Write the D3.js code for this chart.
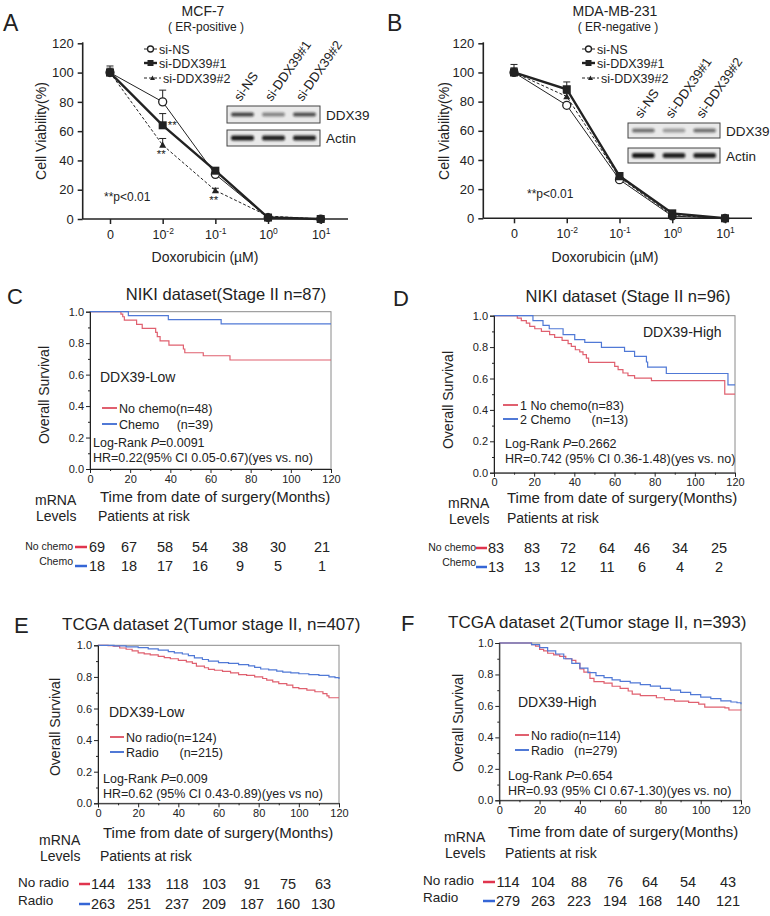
<!DOCTYPE html>
<html>
<head>
<meta charset="utf-8">
<title></title>
<script src="https://d3js.org/d3.v7.min.js"></script>
<style>
body { margin: 0; background: #fff; }
text { font-family: "Liberation Sans", Arial, sans-serif; fill: #222; }
</style>
</head>
<body>
<script>

var width = 770
var height = 916

// ---- panel A / B data (cell viability, %) ----
var doses = ["0", "-2", "-1", "0", "1"]   // exponents, first one is plain "0"
var seriesNames = ["si-NS", "si-DDX39#1", "si-DDX39#2"]

var mcf7_NS   = [100, 80, 30.5, 1, 0]
var mcf7_D1   = [100, 64, 33, 1, 0]
var mcf7_D2   = [100, 50.5, 19.5, 2, 0]
var mcf7_errNS = [4.5, 8, 1, 0, 0]
var mcf7_errD1 = [3, 8, 1, 0, 0]
var mcf7_errD2 = [2, 4.5, 1.5, 0, 0]

var mda_NS   = [100, 77.5, 26.5, 1.5, 0]
var mda_D1   = [100, 88.5, 29, 3.4, 0]
var mda_D2   = [100, 83.5, 28, 2, 0]
var mda_errNS = [3, 1.5, 1, 0, 0]
var mda_errD1 = [5.5, 5, 1, 0, 0]
var mda_errD2 = [3, 2, 1, 0, 0]

// ---- Kaplan-Meier step points [month, survival] ----
var C_noChemo = [[0,1],[15.4,0.985],[16.3,0.968],[17.1,0.947],[23.2,0.919],[26,0.894],[32.7,0.869],[33.5,0.841],[34.9,0.814],[39.3,0.788],[46.5,0.763],[47.2,0.739],[56.4,0.72],[69.7,0.693],[120,0.693]]
var C_chemo   = [[0,1],[19.1,0.975],[39,0.95],[65.3,0.922],[120,0.922]]

var D_noChemo = [[0,1],[11.6,0.985],[13.6,0.968],[16.1,0.953],[17.8,0.932],[20.3,0.917],[23.6,0.9],[27.7,0.879],[30.2,0.862],[33.9,0.843],[36.9,0.822],[38.5,0.805],[40.5,0.783],[42.7,0.769],[44.3,0.752],[46,0.73],[47.1,0.703],[60.1,0.677],[61.8,0.656],[64.2,0.635],[66.7,0.618],[70,0.603],[78.4,0.586],[114.9,0.501],[120,0.501]]
var D_chemo   = [[0,1],[19.4,0.968],[24.4,0.938],[27.5,0.917],[34.4,0.879],[40.2,0.847],[45.2,0.83],[53.5,0.798],[65,0.773],[70,0.741],[75.9,0.705],[76.5,0.672],[85.8,0.632],[116.5,0.56],[120,0.56]]

var E_noRadio = [[0,1],[5,0.997],[7.5,0.994],[10.8,0.983],[14,0.975],[17,0.965],[20,0.952],[23,0.946],[26,0.94],[30,0.93],[33,0.922],[36,0.915],[40,0.905],[44,0.895],[47,0.885],[49,0.868],[53,0.858],[55,0.848],[58,0.842],[62,0.835],[66,0.826],[70,0.815],[74,0.81],[78,0.8],[82,0.79],[84,0.78],[87,0.768],[90,0.758],[94,0.748],[97,0.732],[100,0.726],[104,0.716],[108,0.706],[112,0.694],[114,0.68],[115,0.668],[120,0.668]]
var E_radio   = [[0,1],[8,0.996],[14,0.99],[20,0.985],[25,0.978],[30,0.97],[35,0.96],[38,0.952],[42,0.945],[45,0.935],[48,0.92],[52,0.91],[55,0.9],[60,0.89],[65,0.885],[70,0.878],[75,0.87],[78,0.86],[81,0.85],[85,0.845],[89,0.836],[92,0.83],[96,0.826],[100,0.82],[105,0.815],[110,0.81],[115,0.8],[118,0.795],[120,0.787]]

var F_noRadio = [[0,1],[14,1],[16,0.99],[18,0.98],[20,0.96],[22,0.95],[24,0.935],[27,0.925],[30,0.915],[33,0.9],[36,0.89],[38,0.87],[40,0.835],[42,0.815],[45,0.775],[47,0.755],[52,0.745],[56,0.725],[60,0.712],[64,0.695],[66,0.675],[70,0.665],[78,0.652],[82,0.64],[87,0.63],[94,0.622],[99,0.612],[102,0.592],[112,0.588],[114,0.574],[120,0.572]]
var F_radio   = [[0,1],[10,1],[16,0.99],[20,0.97],[24,0.95],[28,0.93],[32,0.9],[36,0.87],[40,0.84],[44,0.812],[48,0.792],[52,0.78],[56,0.766],[60,0.756],[65,0.746],[70,0.736],[75,0.726],[80,0.712],[85,0.7],[90,0.686],[95,0.672],[100,0.656],[105,0.646],[110,0.632],[115,0.625],[118,0.62],[120,0.61]]

// ---- patients at risk ----
var C_riskNo = [69, 67, 58, 54, 38, 30, 21]
var C_riskYes = [18, 18, 17, 16, 9, 5, 1]
var D_riskNo = [83, 83, 72, 64, 46, 34, 25]
var D_riskYes = [13, 13, 12, 11, 6, 4, 2]
var E_riskNo = [144, 133, 118, 103, 91, 75, 63]
var E_riskYes = [263, 251, 237, 209, 187, 160, 130]
var F_riskNo = [114, 104, 88, 76, 64, 54, 43]
var F_riskYes = [279, 263, 223, 194, 168, 140, 121]

var red = "#e0606f"
var blue = "#5079d6"

var svg = d3.select('body').append('svg')
	.attr('width', width)
	.attr('height', height)

var defs = svg.append("defs")
defs.append("filter").attr("id", "blur").attr("x", "-20%").attr("y", "-100%").attr("width", "140%").attr("height", "300%")
	.append("feGaussianBlur").attr("stdDeviation", "1.1 0.9")

function txt(g, x, y, s, size, anchor) {
	return g.append("text").attr("x", x).attr("y", y).text(s)
		.style("font-size", size + "px")
		.attr("text-anchor", anchor || "start")
}

// ================= viability panels =================
function drawViability(c) {
	var g = svg.append("g")
	var x = d3.scalePoint().domain(d3.range(doses.length)).range(c.xr)
	var y = d3.scaleLinear().domain([0, 120]).range(c.yr)

	txt(g, c.letter[0], c.letter[1], c.letterText, 23)
	txt(g, c.titleX, 16, c.title, 14, "middle")
	txt(g, c.titleX + 3, 31, c.subtitle, 12, "middle")

	var ya = g.append("g").attr("transform", "translate(" + c.axisX + ",0)")
		.call(d3.axisLeft(y).tickValues(d3.range(0, 121, 20)).tickSize(5).tickPadding(4))
	ya.select(".domain").remove()
	ya.selectAll("line").attr("stroke", "#222").attr("stroke-width", 1.5)
	ya.selectAll("text").style("font-size", "13px").attr("fill", "#222").style("font-family", '"Liberation Sans", Arial, sans-serif')
	g.append("line").attr("x1", c.axisX).attr("x2", c.axisX).attr("y1", y(120) - 1).attr("y2", y(0))
		.attr("stroke", "#222").attr("stroke-width", 1.6)

	var xa = g.append("g").attr("transform", "translate(0," + y(0) + ")")
		.call(d3.axisBottom(x).tickSize(5).tickPadding(7).tickFormat(""))
	xa.select(".domain").remove()
	xa.selectAll("line").attr("stroke", "#222").attr("stroke-width", 1.5)
	xa.selectAll(".tick").each(function(d) {
		var t = d3.select(this).append("text").attr("y", 20).attr("text-anchor", "middle")
			.style("font-size", "12.5px")
		if (d === 0) { t.text("0"); return }
		t.append("tspan").text("10")
		t.append("tspan").attr("dy", -5).style("font-size", "8.5px").text(doses[d])
	})
	g.append("line").attr("x1", c.axisX).attr("x2", c.axisEnd).attr("y1", y(0)).attr("y2", y(0))
		.attr("stroke", "#222").attr("stroke-width", 1.6)

	g.append("text").attr("transform", "translate(" + c.ylabX + "," + c.ylabY + ") rotate(-90)")
		.attr("text-anchor", "middle").style("font-size", "14px").text("Cell Viability(%)")
	txt(g, c.xlabX, 262, "Doxorubicin (µM)", 14, "middle")

	var styles = [
		{w: 1, dash: null},
		{w: 2.4, dash: null},
		{w: 1, dash: "3,2"}
	]
	var line = d3.line().x(function(d, i) { return x(i) }).y(function(d) { return y(d) })

	c.series.forEach(function(s, k) {
		g.append("path").datum(s).attr("d", line).attr("fill", "none")
			.attr("stroke", "#222").attr("stroke-width", styles[k].w)
			.attr("stroke-dasharray", styles[k].dash)
		// error bars (upper only)
		s.forEach(function(v, i) {
			var e = c.errs[k][i]
			if (!e) return
			g.append("line").attr("x1", x(i)).attr("x2", x(i)).attr("y1", y(v)).attr("y2", y(v + e))
				.attr("stroke", "#222").attr("stroke-width", 1)
			g.append("line").attr("x1", x(i) - 3.5).attr("x2", x(i) + 3.5).attr("y1", y(v + e)).attr("y2", y(v + e))
				.attr("stroke", "#222").attr("stroke-width", 1)
		})
	})
	c.series.forEach(function(s, k) {
		s.forEach(function(v, i) { marker(g, k, x(i), y(v), i >= 3) })
	})

	// legend
	seriesNames.forEach(function(n, k) {
		var ly = c.legY[k]
		var x2 = c.legX + (k === 2 ? 17 : 13)
		g.append("line").attr("x1", c.legX).attr("x2", x2).attr("y1", ly).attr("y2", ly)
			.attr("stroke", "#222").attr("stroke-width", styles[k].w).attr("stroke-dasharray", styles[k].dash)
		marker(g, k, (c.legX + x2) / 2, ly, false, true)
		txt(g, x2 + 2, ly + 4.5, n, 12.5)
	})

	txt(g, c.pX, c.pY, "**p<0.01", 12)
	c.stars.forEach(function(s) {
		txt(g, x(s[1]) + s[2], y(c.series[s[0]][s[1]]) + s[3], "**", 11.5)
	})

	drawBlot(g, c.blot)
}

function marker(g, k, cx, cy, big, leg) {
	if (k === 0) {
		g.append("circle").attr("cx", cx).attr("cy", cy).attr("r", big ? 3.8 : (leg ? 3 : 4))
			.attr("fill", big ? "#222" : "#fff").attr("stroke", "#222").attr("stroke-width", 1.3)
	} else if (k === 1) {
		var s = leg ? 6 : 8
		g.append("rect").attr("x", cx - s / 2).attr("y", cy - s / 2).attr("width", s).attr("height", s).attr("fill", "#222")
	} else {
		var s = leg ? 2.5 : 3.5
		g.append("path").attr("d", "M" + cx + "," + (cy - s) + "L" + (cx + s) + "," + (cy + s * 0.8) + "L" + (cx - s) + "," + (cy + s * 0.8) + "Z")
			.attr("fill", "#222")
	}
}

function drawBlot(g, b) {
	var lw = (b.x2 - b.x1) / 3
	;[["DDX39", b.y1, b.h1, b.ddx], ["Actin", b.y2, b.h2, [0.95, 0.9, 0.9]]].forEach(function(r) {
		g.append("rect").attr("x", b.x1).attr("y", r[1]).attr("width", b.x2 - b.x1).attr("height", r[2])
			.attr("fill", "#e9e9e9").attr("stroke", "#444").attr("stroke-width", 1)
		r[3].forEach(function(a, i) {
			g.append("rect").attr("x", b.x1 + i * lw + 4).attr("y", r[1] + r[2] / 2 - (r[0] === "Actin" ? 2.5 : 2))
				.attr("width", lw - 8).attr("height", r[0] === "Actin" ? 5 : 4).attr("rx", 2)
				.attr("fill", "#111").attr("opacity", a).attr("filter", "url(#blur)")
		})
		txt(g, b.x2 + 6, r[1] + r[2] / 2 + 5, r[0], 13.5)
	})
	seriesNames.forEach(function(n, i) {
		var cx = b.x1 + lw * i + lw / 2 - 2
		g.append("text").attr("transform", "translate(" + cx + "," + (b.y1 - 4) + ") rotate(-55)")
			.style("font-size", "13px").text(n)
	})
}

drawViability({
	letter: [3, 31], letterText: "A", title: "MCF-7", subtitle: "( ER-positive )", titleX: 203,
	xr: [110, 320.7], yr: [219, 43.3], axisX: 82.7, axisEnd: 348,
	ylabX: 46, ylabY: 131, xlabX: 205,
	series: [mcf7_NS, mcf7_D1, mcf7_D2], errs: [mcf7_errNS, mcf7_errD1, mcf7_errD2],
	legX: 144, legY: [49, 63, 78],
	pX: 104, pY: 201,
	stars: [[1, 1, 5, 4], [2, 1, -6, 13], [2, 2, -6, 14]],
	blot: {x1: 227, x2: 320, y1: 106, h1: 17, y2: 130, h2: 16, ddx: [0.75, 0.45, 0.7]}
})

drawViability({
	letter: [387, 31], letterText: "B", title: "MDA-MB-231", subtitle: "( ER-negative )", titleX: 615,
	xr: [514, 725], yr: [218.3, 43.3], axisX: 483.3, axisEnd: 752,
	ylabX: 449, ylabY: 131, xlabX: 605,
	series: [mda_NS, mda_D1, mda_D2], errs: [mda_errNS, mda_errD1, mda_errD2],
	legX: 582, legY: [49, 63, 78],
	pX: 527, pY: 198,
	stars: [],
	blot: {x1: 628, x2: 720, y1: 123, h1: 15, y2: 148, h2: 15, ddx: [0.55, 0.35, 0.55]}
})

// ================= Kaplan-Meier panels =================
function drawKM(c) {
	var g = svg.append("g")
	var x = d3.scaleLinear().domain([0, 120]).range(c.xr)
	var y = d3.scaleLinear().domain([0, 1]).range(c.yr)

	txt(g, c.letter[0], c.letter[1], c.letterText, 22)
	txt(g, c.title[0], c.title[1], c.titleText, c.titleSize, c.titleAnchor)

	g.append("rect").attr("x", c.xr[0]).attr("y", c.yr[1]).attr("width", c.xr[1] - c.xr[0]).attr("height", c.yr[0] - c.yr[1])
		.attr("fill", "none").attr("stroke", "#8a8a8a").attr("stroke-width", 1)

	var line = d3.line().curve(d3.curveStepAfter).x(function(d) { return x(d[0]) }).y(function(d) { return y(d[1]) })
	g.append("path").datum(c.no).attr("d", line).attr("fill", "none").attr("stroke", red).attr("stroke-width", 1.2)
	g.append("path").datum(c.yes).attr("d", line).attr("fill", "none").attr("stroke", blue).attr("stroke-width", 1.2)

	var ya = g.append("g").attr("transform", "translate(" + c.xr[0] + ",0)")
		.call(d3.axisLeft(y).tickValues([0, 0.2, 0.4, 0.6, 0.8, 1]).tickFormat(d3.format(".1f")).tickSize(4).tickPadding(2))
	g.append("g").attr("transform", "translate(" + c.xr[0] + ",0)")
		.call(d3.axisLeft(y).tickValues([0.1, 0.3, 0.5, 0.7, 0.9]).tickFormat("").tickSize(2))
		.select(".domain").remove()
	var xa = g.append("g").attr("transform", "translate(0," + c.yr[0] + ")")
		.call(d3.axisBottom(x).tickValues(d3.range(0, 121, 20)).tickSize(4).tickPadding(2))
	g.append("g").attr("transform", "translate(0," + c.yr[0] + ")")
		.call(d3.axisBottom(x).tickValues(d3.range(10, 120, 20)).tickFormat("").tickSize(2))
		.select(".domain").remove()
	g.selectAll(".domain").attr("stroke", "#222")
	g.selectAll(".tick line").attr("stroke", "#222")
	;[ya, xa].forEach(function(a) {
		a.selectAll("text").style("font-size", "11px").attr("fill", "#333").style("font-family", '"Liberation Sans", Arial, sans-serif')
	})

	g.append("text").attr("transform", "translate(" + c.ylab[0] + "," + c.ylab[1] + ") rotate(-90)")
		.attr("text-anchor", "middle").style("font-size", "14px").text("Overall Survival")
	txt(g, c.xlab[0], c.xlab[1], "Time from date of surgery(Months)", 15)

	txt(g, c.sub[0], c.sub[1], c.subText, 14)

	// legend
	;[[red, c.legText[0], c.legY[0]], [blue, c.legText[1], c.legY[1]]].forEach(function(l) {
		g.append("line").attr("x1", c.legX[0]).attr("x2", c.legX[1]).attr("y1", l[2]).attr("y2", l[2])
			.attr("stroke", l[0]).attr("stroke-width", 2)
		txt(g, c.legX[1] + 2, l[2] + 4.5, l[1], 12.5).attr("xml:space", "preserve")
	})

	var st = g.append("text").attr("x", c.stat[0]).attr("y", c.stat[1]).style("font-size", "12.5px")
	st.append("tspan").text("Log-Rank ")
	st.append("tspan").style("font-style", "italic").text("P")
	st.append("tspan").text("=" + c.p)
	txt(g, c.stat[0], c.stat[1] + 15, c.hr, 12.5)

	txt(g, c.mrna[0], c.mrna[1], "mRNA", 14)
	txt(g, c.mrna[0] + 1, c.mrna[1] + 16, "Levels", 14)
	txt(g, c.par[0], c.par[1], "Patients at risk", 14)

	// risk table
	;[[red, c.riskNo, c.rowY[0], c.rowLab[0]], [blue, c.riskYes, c.rowY[1], c.rowLab[1]]].forEach(function(r) {
		g.append("line").attr("x1", c.dash[0]).attr("x2", c.dash[1]).attr("y1", r[2] - 5).attr("y2", r[2] - 5)
			.attr("stroke", r[0] === red ? "#e0354e" : "#3566d6").attr("stroke-width", 2.5)
		txt(g, c.labX, r[2] + c.labDy[r[0] === red ? 0 : 1], r[3], c.labSize, c.labAnchor)
		r[1].forEach(function(v, i) {
			txt(g, c.riskX[i], r[2], v, c.riskSize, "middle")
		})
	})
}

drawKM({
	letter: [7, 304], letterText: "C", title: [226, 300], titleText: "NIKI dataset(Stage II n=87)", titleSize: 16.5, titleAnchor: "middle",
	xr: [90, 331], yr: [469, 311.7],
	no: C_noChemo, yes: C_chemo,
	ylab: [49, 395], xlab: [100, 502],
	sub: [100, 382], subText: "DDX39-Low",
	legX: [102, 117], legY: [408, 424], legText: ["No chemo(n=48)", "Chemo     (n=39)"],
	stat: [93, 447], p: "0.0091", hr: "HR=0.22(95% CI 0.05-0.67)(yes vs. no)",
	mrna: [35, 505], par: [98, 521],
	riskNo: C_riskNo, riskYes: C_riskYes, rowY: [552, 571], rowLab: ["No chemo", "Chemo"],
	labX: 73, labAnchor: "end", labSize: 10.5, labDy: [-2, -6], dash: [75, 87],
	riskX: [97, 129, 165, 200, 240, 278, 322], riskSize: 14.5
})

drawKM({
	letter: [393, 306], letterText: "D", title: [628, 302], titleText: "NIKI dataset (Stage II n=96)", titleSize: 16.5, titleAnchor: "middle",
	xr: [494, 735], yr: [472.7, 315.7],
	no: D_noChemo, yes: D_chemo,
	ylab: [453, 400], xlab: [507, 503],
	sub: [643, 337], subText: "DDX39-High",
	legX: [503, 518], legY: [405, 419], legText: ["1 No chemo(n=83)", "2 Chemo      (n=13)"],
	stat: [505, 448], p: "0.2662", hr: "HR=0.742 (95% CI 0.36-1.48)(yes vs. no)",
	mrna: [448, 508], par: [507, 523],
	riskNo: D_riskNo, riskYes: D_riskYes, rowY: [553, 572], rowLab: ["No chemo", "Chemo"],
	labX: 476, labAnchor: "end", labSize: 10.5, labDy: [-2, -6], dash: [476, 487],
	riskX: [496, 532, 568, 607, 642, 680, 719], riskSize: 14.5
})

drawKM({
	letter: [14, 633], letterText: "E", title: [62, 630], titleText: "TCGA dataset 2(Tumor stage II, n=407)", titleSize: 17, titleAnchor: "start",
	xr: [98, 339], yr: [803.3, 645.3],
	no: E_noRadio, yes: E_radio,
	ylab: [60, 727], xlab: [103, 838],
	sub: [109, 717], subText: "DDX39-Low",
	legX: [110, 124], legY: [737, 752], legText: ["No radio(n=124)", "Radio      (n=215)"],
	stat: [103, 783], p: "0.009", hr: "HR=0.62 (95% CI 0.43-0.89)(yes vs no)",
	mrna: [39, 845], par: [100, 861],
	riskNo: E_riskNo, riskYes: E_riskYes, rowY: [889, 909], rowLab: ["No radio", "Radio"],
	labX: 18, labAnchor: "start", labSize: 13.5, labDy: [-2, -4], dash: [79, 90],
	riskX: [103, 139, 177, 214, 252, 288, 323], riskSize: 14.5
})

drawKM({
	letter: [401, 631], letterText: "F", title: [448, 628], titleText: "TCGA dataset 2(Tumor stage II, n=393)", titleSize: 17, titleAnchor: "start",
	xr: [499.3, 741], yr: [800.3, 643],
	no: F_noRadio, yes: F_radio,
	ylab: [463, 723], xlab: [508, 837],
	sub: [518, 707], subText: "DDX39-High",
	legX: [515, 529], legY: [735, 750], legText: ["No radio(n=114)", "Radio   (n=279)"],
	stat: [508, 780], p: "0.654", hr: "HR=0.93 (95% CI 0.67-1.30)(yes vs. no)",
	mrna: [444, 842], par: [505, 858],
	riskNo: F_riskNo, riskYes: F_riskYes, rowY: [887, 906], rowLab: ["No radio", "Radio"],
	labX: 423, labAnchor: "start", labSize: 13.5, labDy: [-2, -4], dash: [483, 495],
	riskX: [508, 543, 579, 615, 650, 688, 728], riskSize: 14.5
})

</script>
</body>
</html>
